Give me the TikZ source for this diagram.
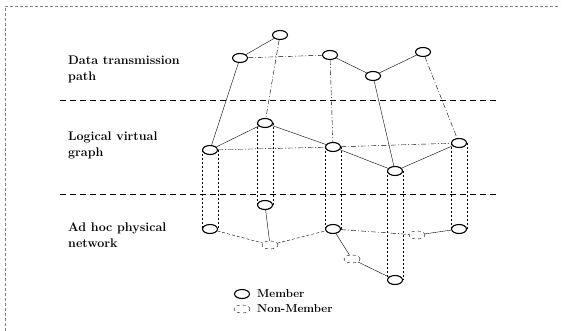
\documentclass[tikz,border=0pt]{standalone}
\usepackage{tikz}
\usetikzlibrary{shapes.geometric}
\usepackage{amsmath}
\usepackage{xcolor}

\tikzset{
  member/.style={ellipse,draw,line width=1.1pt,minimum width=15pt,minimum height=9pt,inner sep=0pt},
  nonmember/.style={ellipse,draw,dashed,thin,minimum width=16pt,minimum height=8pt,inner sep=0pt},
  dashdot/.style={dash pattern=on 5pt off 2pt on 1pt off 2pt},
  pillar/.style={dash pattern=on 2pt off 2pt,line width=0.5pt},
  layer/.style={align=left,anchor=west,inner sep=0pt,font=\fontsize{12.5}{16}\selectfont\bfseries},
  keytext/.style={anchor=west,inner sep=0pt,font=\fontsize{11.5}{13}\selectfont\bfseries}
}

\begin{document}
\begin{tikzpicture}[x=1pt,y=-1pt]
            \useasboundingbox (0,0) rectangle (564,331);
            \draw[gray,densely dashed,thin] (5,331) -- (5,6) -- (560,6);

            \node (lbdata) at (68,69) [layer] {Data transmission\\path};
            \node (lbgraph) at (68,145) [layer] {Logical virtual\\graph};
            \node (lbnet) at (68,235) [layer] {Ad hoc physical\\network};
            \draw[line width=1pt,dash pattern=on 6pt off 4pt] (60,101) -- (496,101);
            \draw[line width=1pt,dash pattern=on 6pt off 4pt] (60,194) -- (496,194);

            % data transmission path
            \node (t1) at (280,35) [member] {};
            \node (t2) at (240,58) [member] {};
            \node (t3) at (330,55) [member] {};
            \node (t4) at (373,76) [member] {};
            \node (t5) at (423,52) [member] {};

            % logical virtual graph
            \node (l1) at (210,150) [member] {};
            \node (l2) at (265,123) [member] {};
            \node (l3) at (333,147) [member] {};
            \node (l4) at (395,171) [member] {};
            \node (l5) at (459,143) [member] {};

            % ad hoc physical network
            \node (p1) at (210,229) [member] {};
            \node (p2) at (265,205) [member] {};
            \node (p3) at (333,229) [member] {};
            \node (p4) at (395,280) [member] {};
            \node (p5) at (459,229) [member] {};
            \node (n1) at (270,245) [nonmember] {};
            \node (n2) at (417,235) [nonmember] {};
            \node (n3) at (352,259) [nonmember] {};

            \draw (t2) -- (t1) (t3) -- (t4) (t4) -- (t5);
            \draw[dashdot] (t2) -- (t3);
            \draw[dashdot] (t1) -- (l2) (t3) -- (l3) (t5) -- (l5);
            \draw (t2) -- (l1) (t4) -- (l4);

            \draw (l1) -- (l2) (l2) -- (l3) (l3) -- (l4) (l4) -- (l5);
            \draw[dashdot] (l1) -- (l3) (l3) -- (l5);

            \foreach \a/\b in {l1/p1,l2/p2,l3/p3,l4/p4,l5/p5}
              \draw[pillar] (\a.west) -- (\b.west) (\a.east) -- (\b.east);

            \draw[densely dashed] (p1) -- (n1) (n1) -- (p3);
            \draw[dashdot] (p3) -- (n2);
            \draw (n2) -- (p5) (p3) -- (n3) (n3) -- (p4) (p2) -- (n1);

            % legend
            \node (km) at (242,294) [member] {};
            \node (kn) at (242,309) [nonmember] {};
            \node at (257,294) [keytext] {Member};
            \node at (257,309) [keytext] {Non-Member};
        \end{tikzpicture}
\end{document}
